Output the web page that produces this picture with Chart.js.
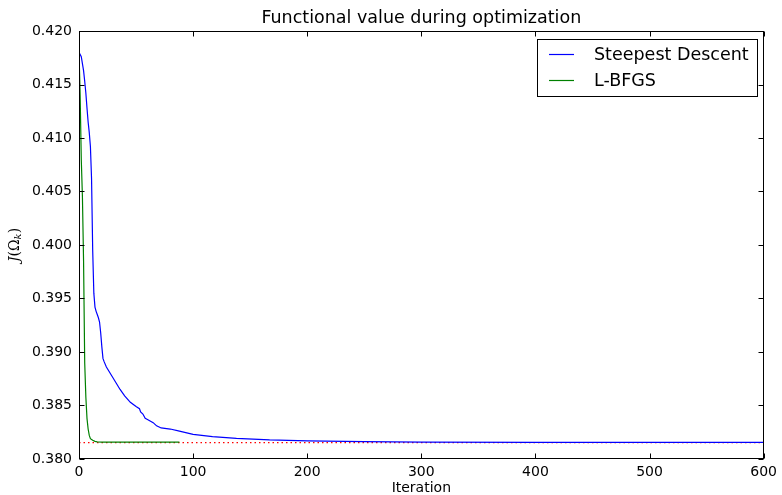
<!DOCTYPE html>
<html>
<head>
<meta charset="utf-8">
<script src="https://cdn.jsdelivr.net/npm/chart.js@4.4.0/dist/chart.umd.min.js"></script>
<style>
  html, body { margin: 0; padding: 0; background: #fff; }
  #wrap { width: 782px; height: 495px; }
</style>
</head>
<body>
<div id="wrap"><canvas id="chart" width="782" height="495"></canvas></div>
<script>
// --- data ---
const sdIter = [0, 2, 4, 5, 6, 7, 8, 9, 10, 11, 12, 13, 14, 15, 16, 17, 18, 19, 20, 21, 22, 24, 28, 32, 36, 40, 45, 50, 53, 54, 56, 58, 60, 65, 68, 72, 80, 88, 100, 117, 138, 167, 200, 250, 300, 400, 500, 600];
const sdValue = [0.4180, 0.4176, 0.4163, 0.4153, 0.4142, 0.4128, 0.4115, 0.4105, 0.4092, 0.4062, 0.3995, 0.3955, 0.3942, 0.3938, 0.3935, 0.3932, 0.3928, 0.3918, 0.3905, 0.3894, 0.3891, 0.3886, 0.3879, 0.3872, 0.3865, 0.3859, 0.3853, 0.3849, 0.3847, 0.3844, 0.3842, 0.3838, 0.3837, 0.3834, 0.3831, 0.3829, 0.3828, 0.3826, 0.3823, 0.3821, 0.38193, 0.38178, 0.3817, 0.38162, 0.38158, 0.38156, 0.38155, 0.38155];

const lbIter = [0, 1, 2, 3, 4, 5, 6, 7, 8, 9, 10, 12, 14, 16, 20, 40, 60, 88];
const lbValue = [0.4181, 0.4140, 0.4080, 0.4045, 0.3985, 0.3890, 0.3858, 0.3838, 0.3828, 0.3822, 0.3819, 0.38175, 0.38165, 0.3816, 0.38157, 0.38157, 0.38157, 0.38157];

const optIter = [0, 600];
const optValue = [0.38153, 0.38153];

const xTicks = [0, 100, 200, 300, 400, 500, 600];
const yTicks = [0.380, 0.385, 0.390, 0.395, 0.400, 0.405, 0.410, 0.415, 0.420];

const toPoints = (xs, ys) => xs.map((x, i) => ({ x: x, y: ys[i] }));

const FONT = '"DejaVu Sans", sans-serif';

// frame, inward ticks, title, axis labels, legend
const decorations = {
    id: 'decorations',
    afterDraw(chart) {
        const ctx = chart.ctx;
        const a = chart.chartArea;
        const xs = chart.scales.x, ys = chart.scales.y;
        const L = Math.round(a.left) + 0.5, R = Math.round(a.right) - 0.5;
        const T = Math.round(a.top) + 0.5, B = Math.round(a.bottom) - 0.5;
        ctx.save();
        ctx.strokeStyle = '#000';
        ctx.lineWidth = 1;
        ctx.strokeRect(L, T, R - L, B - T);

        const tl = 5;
        ctx.beginPath();
        xTicks.forEach(v => {
            const px = Math.round(xs.getPixelForValue(v)) + 0.5;
            ctx.moveTo(px, B); ctx.lineTo(px, B - tl);
            ctx.moveTo(px, T); ctx.lineTo(px, T + tl);
        });
        yTicks.forEach(v => {
            const py = Math.round(ys.getPixelForValue(v)) + 0.5;
            ctx.moveTo(L, py); ctx.lineTo(L + tl, py);
            ctx.moveTo(R, py); ctx.lineTo(R - tl, py);
        });
        ctx.stroke();

        // title
        ctx.fillStyle = '#000';
        ctx.textAlign = 'center';
        ctx.textBaseline = 'middle';
        ctx.font = '17.5px ' + FONT;
        ctx.fillText('Functional value during optimization', (a.left + a.right) / 2, 18);

        // x label
        ctx.font = '14px ' + FONT;
        ctx.fillText('Iteration', (a.left + a.right) / 2, 488);

        // y label J(Ω_k)
        ctx.save();
        ctx.translate(15, (a.top + a.bottom) / 2);
        ctx.rotate(-Math.PI / 2);
        const parts = [
            { t: 'J', f: 'italic 14px "DejaVu Serif", serif', dy: 0 },
            { t: '(', f: '14px "DejaVu Serif", serif', dy: 0 },
            { t: 'Ω', f: '14px "DejaVu Serif", serif', dy: 0 },
            { t: 'k', f: 'italic 10px "DejaVu Serif", serif', dy: 3 },
            { t: ')', f: '14px "DejaVu Serif", serif', dy: 0 }
        ];
        let total = 0;
        parts.forEach(p => { ctx.font = p.f; p.w = ctx.measureText(p.t).width; total += p.w; });
        let cx = -total / 2;
        ctx.textAlign = 'left';
        parts.forEach(p => {
            ctx.font = p.f;
            ctx.fillText(p.t, cx, p.dy);
            cx += p.w;
        });
        ctx.restore();

        // legend
        const lx = 537.5, ly = 39.5, lw = 220, lh = 57;
        ctx.fillStyle = '#fff';
        ctx.fillRect(lx, ly, lw, lh);
        ctx.strokeStyle = '#000';
        ctx.strokeRect(lx, ly, lw, lh);
        ctx.font = '17.5px ' + FONT;
        ctx.textAlign = 'left';
        ctx.textBaseline = 'middle';
        const rows = [0, 1];
        rows.forEach(i => {
            const ds = chart.data.datasets[i];
            const ry = 54 + i * 26;
            ctx.strokeStyle = ds.borderColor;
            ctx.lineWidth = 1.2;
            ctx.beginPath();
            ctx.moveTo(549, ry + 0.5);
            ctx.lineTo(574, ry + 0.5);
            ctx.stroke();
            ctx.fillStyle = '#000';
            ctx.fillText(ds.label, 594, ry + 1);
        });
        ctx.restore();
    }
};

new Chart(document.getElementById('chart'), {
    type: 'line',
    data: {
        datasets: [
            {
                label: 'optimum',
                data: toPoints(optIter, optValue),
                borderColor: '#ff0000',
                borderWidth: 1.3,
                borderDash: [1.5, 3],
                pointRadius: 0,
                tension: 0,
                order: 3
            },
            {
                label: 'Steepest Descent',
                data: toPoints(sdIter, sdValue),
                borderColor: '#0000ff',
                borderWidth: 1.2,
                pointRadius: 0,
                tension: 0,
                order: 2
            },
            {
                label: 'L-BFGS',
                data: toPoints(lbIter, lbValue),
                borderColor: '#008000',
                borderWidth: 1.2,
                pointRadius: 0,
                tension: 0,
                order: 1
            }
        ].sort((p, q) => (p.label === 'optimum') - (q.label === 'optimum'))
    },
    options: {
        responsive: false,
        animation: false,
        events: [],
        layout: { padding: { top: 31, right: 17, left: 0, bottom: 0 } },
        plugins: {
            legend: { display: false },
            title: { display: false },
            tooltip: { enabled: false }
        },
        scales: {
            x: {
                type: 'linear',
                min: 0,
                max: 600,
                grid: { display: false, drawTicks: false },
                border: { display: false },
                afterBuildTicks: s => { s.ticks = xTicks.map(v => ({ value: v })); },
                afterFit: s => { s.height = 36; },
                ticks: {
                    color: '#000',
                    font: { family: FONT, size: 14 },
                    padding: 5,
                    maxRotation: 0,
                    callback: v => String(v)
                }
            },
            y: {
                type: 'linear',
                min: 0.380,
                max: 0.420,
                grid: { display: false, drawTicks: false },
                border: { display: false },
                afterBuildTicks: s => { s.ticks = yTicks.map(v => ({ value: v })); },
                afterFit: s => { s.width = 79; },
                ticks: {
                    color: '#000',
                    font: { family: FONT, size: 14 },
                    padding: 7,
                    callback: v => Number(v).toFixed(3)
                }
            }
        }
    },
    plugins: [decorations]
});
</script>
</body>
</html>
